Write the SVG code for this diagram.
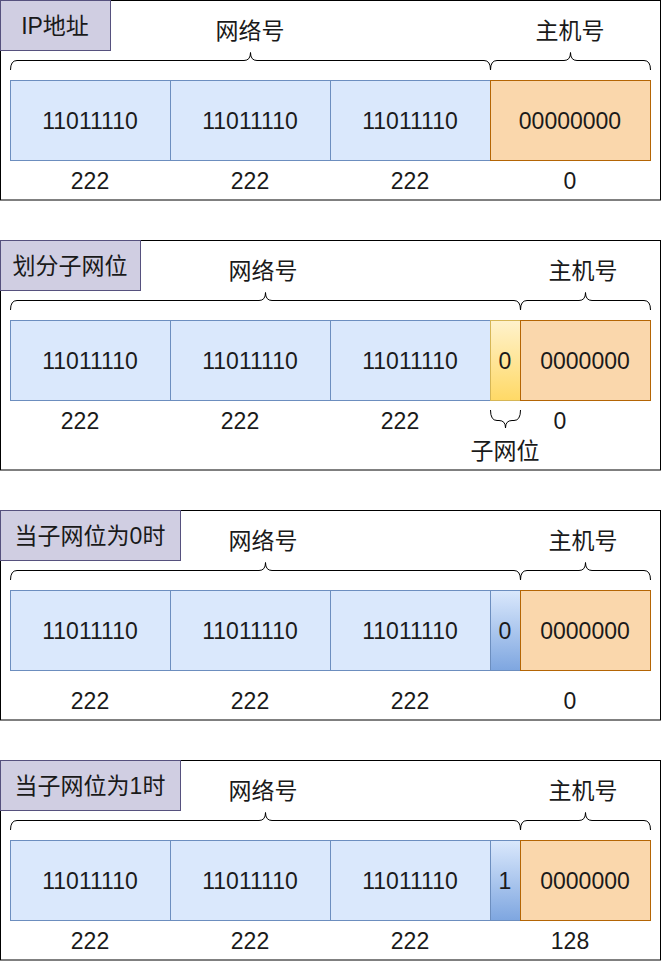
<svg xmlns="http://www.w3.org/2000/svg" width="662" height="961" viewBox="0 0 662 961">
<defs>
<linearGradient id="gY" x1="0" y1="0" x2="0" y2="1"><stop offset="0" stop-color="#fff2cc"/><stop offset="1" stop-color="#ffd966"/></linearGradient>
<linearGradient id="gB" x1="0" y1="0" x2="0" y2="1"><stop offset="0" stop-color="#dae8fc"/><stop offset="1" stop-color="#7ea6e0"/></linearGradient>
<style>
.frame{fill:#fff;stroke:#000;stroke-width:1}
.lab{fill:#d0cee2;stroke:#56517e;stroke-width:1}
.net{fill:#dae8fc;stroke:#6c8ebf;stroke-width:1}
.host{fill:#fad7ac;stroke:#b46504;stroke-width:1}
.subY{fill:url(#gY);stroke:#d6b656;stroke-width:1}
.subB{fill:url(#gB);stroke:#6c8ebf;stroke-width:1}
.br{fill:none;stroke:#000;stroke-width:1}
text{font-family:"Liberation Sans","Noto Sans CJK SC",sans-serif;font-size:23px;fill:#1a1a1a;text-anchor:middle;dominant-baseline:central}
</style>
</defs>
<rect width="662" height="961" fill="#fff"/>

<g id="section1">
<rect class="frame" x="0.5" y="0.5" width="660" height="199.5"/>
<g id="label1"><rect class="lab" x="0.5" y="0.5" width="110" height="50"/><text x="55" y="26">IP地址</text></g>
<g id="s1-net-label"><text x="250" y="31">网络号</text></g>
<g id="s1-host-label"><text x="570" y="31">主机号</text></g>
<g id="s1-c1"><rect class="net" x="10.5" y="80.5" width="160" height="80"/><text x="90" y="121">11011110</text></g>
<g id="s1-c2"><rect class="net" x="170.5" y="80.5" width="160" height="80"/><text x="250" y="121">11011110</text></g>
<g id="s1-c3"><rect class="net" x="330.5" y="80.5" width="160" height="80"/><text x="410" y="121">11011110</text></g>
<g id="s1-c4"><rect class="host" x="490.5" y="80.5" width="160" height="80"/><text x="570" y="121">00000000</text></g>
<g id="s1-dec"><text x="90" y="181" fill="#000">222</text><text x="250" y="181">222</text><text x="410" y="181">222</text><text x="570" y="181">0</text></g>
</g>

<g id="section2">
<rect class="frame" x="0.5" y="240.5" width="660" height="229.5"/>
<g id="label2"><rect class="lab" x="0.5" y="240.5" width="140" height="50"/><text x="70" y="266">划分子网位</text></g>
<g id="s2-net-label"><text x="263" y="271">网络号</text></g>
<g id="s2-host-label"><text x="583" y="271">主机号</text></g>
<g id="s2-c1"><rect class="net" x="10.5" y="320.5" width="160" height="80"/><text x="90" y="361">11011110</text></g>
<g id="s2-c2"><rect class="net" x="170.5" y="320.5" width="160" height="80"/><text x="250" y="361">11011110</text></g>
<g id="s2-c3"><rect class="net" x="330.5" y="320.5" width="160" height="80"/><text x="410" y="361">11011110</text></g>
<g id="s2-sub"><rect class="subY" x="490.5" y="320.5" width="30" height="80"/><text x="505" y="361">0</text></g>
<g id="s2-c4"><rect class="host" x="520.5" y="320.5" width="130" height="80"/><text x="585" y="361">0000000</text></g>
<g id="s2-dec"><text x="80" y="421">222</text><text x="240" y="421">222</text><text x="400" y="421">222</text><text x="560" y="421">0</text></g>
<g id="s2-sub-label"><text x="505" y="451">子网位</text></g>
</g>

<g id="section3">
<rect class="frame" x="0.5" y="510.5" width="660" height="209.5"/>
<g id="label3"><rect class="lab" x="0.5" y="510.5" width="180" height="50"/><text x="90" y="536">当子网位为0时</text></g>
<g id="s3-net-label"><text x="263" y="541">网络号</text></g>
<g id="s3-host-label"><text x="583" y="541">主机号</text></g>
<g id="s3-c1"><rect class="net" x="10.5" y="590.5" width="160" height="80"/><text x="90" y="631">11011110</text></g>
<g id="s3-c2"><rect class="net" x="170.5" y="590.5" width="160" height="80"/><text x="250" y="631">11011110</text></g>
<g id="s3-c3"><rect class="net" x="330.5" y="590.5" width="160" height="80"/><text x="410" y="631">11011110</text></g>
<g id="s3-sub"><rect class="subB" x="490.5" y="590.5" width="30" height="80"/><text x="505" y="631">0</text></g>
<g id="s3-c4"><rect class="host" x="520.5" y="590.5" width="130" height="80"/><text x="585" y="631">0000000</text></g>
<g id="s3-dec"><text x="90" y="701" fill="#000">222</text><text x="250" y="701">222</text><text x="410" y="701">222</text><text x="570" y="701">0</text></g>
</g>

<g id="section4">
<rect class="frame" x="0.5" y="760.5" width="660" height="199.5"/>
<g id="label4"><rect class="lab" x="0.5" y="760.5" width="180" height="50"/><text x="90" y="786">当子网位为1时</text></g>
<g id="s4-net-label"><text x="263" y="791">网络号</text></g>
<g id="s4-host-label"><text x="583" y="791">主机号</text></g>
<g id="s4-c1"><rect class="net" x="10.5" y="840.5" width="160" height="80"/><text x="90" y="881">11011110</text></g>
<g id="s4-c2"><rect class="net" x="170.5" y="840.5" width="160" height="80"/><text x="250" y="881">11011110</text></g>
<g id="s4-c3"><rect class="net" x="330.5" y="840.5" width="160" height="80"/><text x="410" y="881">11011110</text></g>
<g id="s4-sub"><rect class="subB" x="490.5" y="840.5" width="30" height="80"/><text x="505" y="881">1</text></g>
<g id="s4-c4"><rect class="host" x="520.5" y="840.5" width="130" height="80"/><text x="585" y="881">0000000</text></g>
<g id="s4-dec"><text x="90" y="941" fill="#000">222</text><text x="250" y="941">222</text><text x="410" y="941">222</text><text x="570" y="941">128</text></g>
</g>

<g id="braces">
<path class="br" d="M10.5,70 Q10.5,60.5 17,60.5 L244,60.5 Q250.5,60.5 250.5,52.5 Q250.5,60.5 257,60.5 L484,60.5 Q490.5,60.5 490.5,70"/>
<path class="br" d="M490.5,70 Q490.5,60.5 497,60.5 L564,60.5 Q570.5,60.5 570.5,52.5 Q570.5,60.5 577,60.5 L644,60.5 Q650.5,60.5 650.5,70"/>
<path class="br" d="M10.5,310 Q10.5,300.5 17,300.5 L259,300.5 Q265.5,300.5 265.5,292.5 Q265.5,300.5 272,300.5 L514,300.5 Q520.5,300.5 520.5,310"/>
<path class="br" d="M520.5,310 Q520.5,300.5 527,300.5 L579,300.5 Q585.5,300.5 585.5,292.5 Q585.5,300.5 592,300.5 L644,300.5 Q650.5,300.5 650.5,310"/>
<path class="br" d="M490.5,410 Q490.5,420.5 497,420.5 L499,420.5 Q505.5,420.5 505.5,428 Q505.5,420.5 512,420.5 L514,420.5 Q520.5,420.5 520.5,410"/>
<path class="br" d="M10.5,580 Q10.5,570.5 17,570.5 L259,570.5 Q265.5,570.5 265.5,562.5 Q265.5,570.5 272,570.5 L514,570.5 Q520.5,570.5 520.5,580"/>
<path class="br" d="M520.5,580 Q520.5,570.5 527,570.5 L579,570.5 Q585.5,570.5 585.5,562.5 Q585.5,570.5 592,570.5 L644,570.5 Q650.5,570.5 650.5,580"/>
<path class="br" d="M10.5,830 Q10.5,820.5 17,820.5 L259,820.5 Q265.5,820.5 265.5,812.5 Q265.5,820.5 272,820.5 L514,820.5 Q520.5,820.5 520.5,830"/>
<path class="br" d="M520.5,830 Q520.5,820.5 527,820.5 L579,820.5 Q585.5,820.5 585.5,812.5 Q585.5,820.5 592,820.5 L644,820.5 Q650.5,820.5 650.5,830"/>
</g>
</svg>
